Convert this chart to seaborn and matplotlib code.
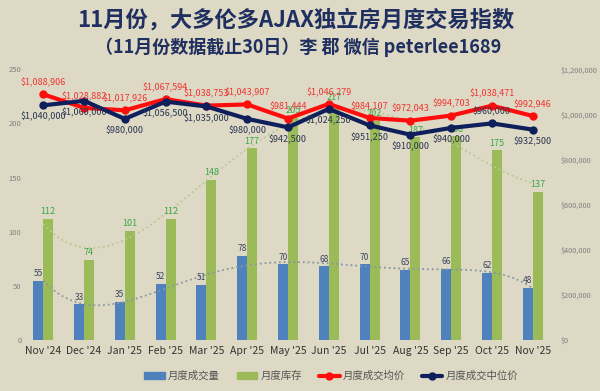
import numpy as np
import pandas as pd
import matplotlib
matplotlib.use("Agg")
import matplotlib.pyplot as plt
import seaborn as sns
from matplotlib.lines import Line2D
from matplotlib.patches import Patch
from matplotlib.ticker import FuncFormatter

months = ["Nov '24", "Dec '24", "Jan '25", "Feb '25", "Mar '25", "Apr '25", "May '25",
          "Jun '25", "Jul '25", "Aug '25", "Sep '25", "Oct '25", "Nov '25"]
sales = [55, 33, 35, 52, 51, 78, 70, 68, 70, 65, 66, 62, 48]
inventory = [112, 74, 101, 112, 148, 177, 205, 217, 202, 187, 188, 175, 137]
avg_price = [1088906, 1028882, 1017926, 1067594, 1038753, 1043907, 981444,
             1046279, 984107, 972043, 994703, 1038471, 992946]
median_price = [1040000, 1060000, 980000, 1056500, 1035000, 980000, 942500,
                1024250, 951250, 910000, 940000, 960000, 932500]
left_ticks = [0, 50, 100, 150, 200, 250]
right_ticks = [0, 200000, 400000, 600000, 800000, 1000000, 1200000]
series_names = ["月度成交量", "月度库存", "月度成交均价", "月度成交中位价"]
title1 = "11月份，大多伦多AJAX独立房月度交易指数"
title2 = "（11月份数据截止30日）李 郡 微信 peterlee1689"

sns.set_theme(style="white")
plt.rcParams["font.family"] = ["Noto Sans CJK SC", "DejaVu Sans"]

bg = "#ddd9c4"
c_blue, c_green = "#4f81bd", "#9bbb59"
c_red, c_navy = "#ff0d0d", "#0f1f5c"

fig = plt.figure(figsize=(6, 3.91), dpi=100, facecolor=bg)
ax = fig.add_axes([0.038, 0.130, 0.884, 0.693])
ax.set_facecolor(bg)

df = pd.DataFrame({
    "month": months * 2,
    "value": sales + inventory,
    "series": [series_names[0]] * len(months) + [series_names[1]] * len(months),
})
sns.barplot(data=df, x="month", y="value", hue="series", order=months,
            hue_order=series_names[:2], palette=[c_blue, c_green], saturation=1,
            width=0.49, gap=0, linewidth=0, legend=False, ax=ax)
ax.bar_label(ax.containers[0], padding=2, fontsize=6, color="#3a4660")
ax.bar_label(ax.containers[1], padding=2, fontsize=6.5, color="#3aa84a")

xpos = np.arange(len(months))
sns.regplot(x=xpos, y=np.array(inventory, float), order=4, ci=None, scatter=False, ax=ax,
            line_kws=dict(color="#b9c98f", ls=":", lw=1.3))
sns.regplot(x=xpos, y=np.array(sales, float), order=6, ci=None, scatter=False, ax=ax,
            line_kws=dict(color="#8a96a4", ls=":", lw=1.3))

ax.set_xlim(-0.5, len(months) - 0.5)
ax.set_ylim(0, 250)
ax.set_yticks(left_ticks)
ax.set_xticks(xpos)
ax.set_xticklabels(months)
ax.set_xlabel("")
ax.set_ylabel("")
ax.tick_params(axis="x", length=0, labelsize=7.5, labelcolor="#333333", pad=4)
ax.tick_params(axis="y", length=0, labelsize=5.5, labelcolor="#808080", pad=1)
for s in ax.spines.values():
    s.set_visible(False)

ax2 = ax.twinx()
sns.lineplot(x=xpos, y=avg_price, ax=ax2, color=c_red, lw=3, marker="o", ms=6,
             mec=c_red, mew=0, zorder=5)
sns.lineplot(x=xpos, y=median_price, ax=ax2, color=c_navy, lw=3, marker="o", ms=6,
             mec=c_navy, mew=0, zorder=6)
ax2.set_ylim(0, 1200000)
ax2.set_yticks(right_ticks)
ax2.yaxis.set_major_formatter(FuncFormatter(lambda v, p: f"${v:,.0f}"))
ax2.tick_params(axis="y", length=0, labelsize=5.3, labelcolor="#808080", pad=5)
ax2.set_ylabel("")
for s in ax2.spines.values():
    s.set_visible(False)

for i, v in enumerate(avg_price):
    ax2.annotate(f"${v:,.0f}", (i, v), xytext=(0, 5), textcoords="offset points",
                 ha="center", va="bottom", fontsize=6.5, color="#f03434", zorder=7)
for i, v in enumerate(median_price):
    above = months[i] == "Oct '25"
    ax2.annotate(f"${v:,.0f}", (i, v), xytext=(0, 5 if above else -5),
                 textcoords="offset points", ha="center",
                 va="bottom" if above else "top", fontsize=6.5, color="#2a3552", zorder=7)

fig.text(0.493, 0.948, title1, ha="center", va="center", fontsize=16,
         fontweight="bold", color="#1f2f5f")
fig.text(0.497, 0.878, title2, ha="center", va="center", fontsize=13,
         fontweight="bold", color="#1f2f5f")

handles = [Patch(color=c_blue), Patch(color=c_green),
           Line2D([], [], color=c_red, lw=3, marker="o", ms=5),
           Line2D([], [], color=c_navy, lw=3, marker="o", ms=5)]
fig.legend(handles, series_names, loc="center", ncol=4, frameon=False,
           bbox_to_anchor=(0.552, 0.038), fontsize=7.5, labelcolor="#555555",
           handlelength=2.0, handleheight=0.6, columnspacing=1.6, handletextpad=0.3)

fig.savefig("out.png", dpi=100, facecolor=bg)
